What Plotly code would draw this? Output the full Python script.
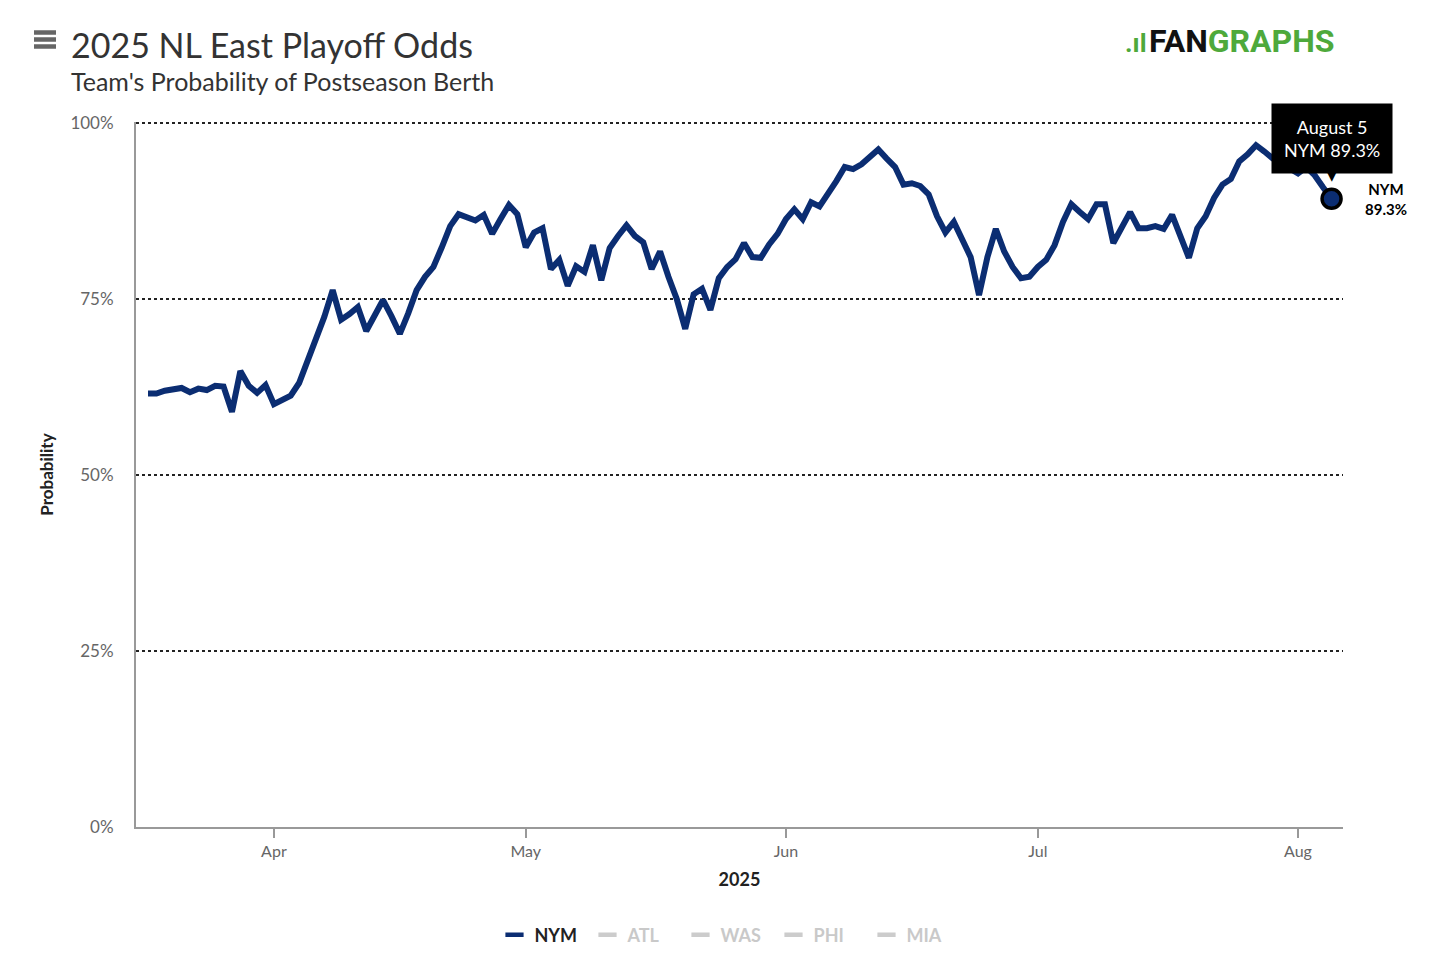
import plotly.graph_objects as go
import pandas as pd

start_date = "2025-03-17"
nym_pct = [
    61.6, 61.6, 62.0, 62.3, 62.4, 61.8, 62.3, 62.1, 62.7, 62.6,
    59.0, 64.8, 62.7, 61.7, 62.8, 60.1, 60.6, 61.3, 63.1, 66.2,
    69.4, 72.5, 76.3, 72.1, 72.9, 73.9, 70.5, 72.9, 74.9, 72.6,
    70.1, 73.0, 76.3, 78.2, 79.6, 82.4, 85.4, 87.1, 86.7, 86.2,
    87.0, 84.3, 86.4, 88.4, 87.1, 82.4, 84.5, 85.1, 79.3, 80.6,
    76.9, 79.7, 78.9, 82.7, 77.7, 82.3, 84.0, 85.5, 84.0, 83.1,
    79.3, 81.8, 78.2, 75.0, 70.8, 75.7, 76.5, 73.5, 78.0, 79.6,
    80.7, 83.0, 81.0, 80.9, 82.8, 84.3, 86.4, 87.8, 86.4, 88.8,
    88.2, 89.9, 91.8, 93.8, 93.5, 94.2, 95.3, 96.3, 95.0, 93.8,
    91.3, 91.5, 91.1, 89.9, 86.8, 84.5, 86.0, 83.3, 81.0, 75.6,
    81.0, 85.0, 81.8, 79.6, 78.0, 78.2, 79.6, 80.6, 82.7, 86.0,
    88.5, 87.4, 86.4, 88.5, 88.5, 83.0, 85.1, 87.4, 85.1, 85.1,
    85.4, 85.0, 87.0, 83.8, 80.9, 85.1, 86.8, 89.4, 91.3, 92.1,
    94.6, 95.6, 96.9, 96.0, 95.0, 94.3, 93.5, 92.9, 93.8, 92.6,
    90.9, 89.3,
]
dates = pd.date_range(start_date, periods=len(nym_pct), freq="D")
other_teams = ["ATL", "WAS", "PHI", "MIA"]
y_ticks = [0, 25, 50, 75, 100]
y_tick_labels = ["0%", "25%", "50%", "75%", "100%"]
title = "2025 NL East Playoff Odds"
subtitle = "Team's Probability of Postseason Berth"

NAVY = "#0b2d72"
GREEN = "#4ea93b"
FONT = "Lato"

W, H = 1456, 954
OFF = 8  # page body offset
L, R, T, B = 128, 121, 114, 135
pw, ph = W - L - R, H - T - B


def px(x):
    return (x - OFF - L) / pw


def py(y):
    return (H - B - (y - OFF)) / ph


fig = go.Figure()
fig.add_trace(go.Scatter(
    x=dates, y=nym_pct, mode="lines", name="NYM", showlegend=False,
    line=dict(color=NAVY, width=6), hoverinfo="skip",
))
fig.add_trace(go.Scatter(
    x=[dates[-1]], y=[nym_pct[-1]], mode="markers", showlegend=False,
    marker=dict(size=19, color=NAVY, line=dict(color="black", width=3.5)),
    hoverinfo="skip",
))
# legend entries (short line symbols)
fig.add_trace(go.Scatter(
    x=[None], y=[None], mode="markers", name="<b>NYM</b>",
    marker=dict(symbol="line-ew", size=13, line=dict(color=NAVY, width=4.5)),
))
for t in other_teams:
    fig.add_trace(go.Scatter(
        x=[None], y=[None], mode="markers",
        name=f"<span style='color:#c9c9c9'><b>{t}</b></span>",
        marker=dict(symbol="line-ew", size=13, line=dict(color="#cccccc", width=4.5)),
    ))

last_label = dates[-1].strftime("%B ") + str(dates[-1].day)
fig.add_annotation(
    x=dates[-1], y=nym_pct[-1], xref="x", yref="y",
    text=f"{last_label}<br>NYM {nym_pct[-1]:.1f}%",
    showarrow=False, xanchor="center", yanchor="bottom", yshift=25,
    bgcolor="black", borderpad=12, font=dict(family=FONT, size=18, color="white"),
)
fig.add_annotation(
    x=dates[-1], y=nym_pct[-1], xref="x", yref="y",
    text="▼", showarrow=False, xanchor="center", yanchor="bottom", yshift=13,
    font=dict(family="DejaVu Sans", size=15, color="black"),
)
fig.add_annotation(
    x=dates[-1], y=nym_pct[-1], xref="x", yref="y",
    text=f"<b>NYM</b><br><b>{nym_pct[-1]:.1f}%</b>",
    showarrow=False, xanchor="center", yanchor="middle", xshift=54, yshift=0,
    font=dict(family=FONT, size=15, color="black"),
)

fig.add_annotation(x=px(69), y=py(45), xref="paper", yref="paper", text=title,
                   showarrow=False, xanchor="left", yanchor="middle",
                   font=dict(family=FONT, size=34, color="#333333"))
fig.add_annotation(x=px(69), y=py(81), xref="paper", yref="paper", text=subtitle,
                   showarrow=False, xanchor="left", yanchor="middle",
                   font=dict(family=FONT, size=25, color="#333333"))
# logo
fig.add_annotation(x=px(1337), y=py(41), xref="paper", yref="paper",
                   text=f"<b><span style='color:#111'>FAN</span><span style='color:{GREEN}'>GRAPHS</span></b>",
                   showarrow=False, xanchor="right", yanchor="middle",
                   font=dict(family="Roboto", size=32))
fig.add_annotation(x=px(1149), y=py(43), xref="paper", yref="paper",
                   text=f"<b><span style='color:{GREEN}'>.ıl</span></b>",
                   showarrow=False, xanchor="right", yanchor="middle",
                   font=dict(family="Roboto", size=26))
# hamburger icon
for yy in (32.5, 39.5, 46.5):
    fig.add_shape(type="line", xref="paper", yref="paper",
                  x0=px(34), x1=px(56), y0=py(yy), y1=py(yy),
                  line=dict(color="#666666", width=4.5))

fig.update_layout(
    width=W, height=H,
    margin=dict(l=L, r=R, t=T, b=B, autoexpand=False),
    paper_bgcolor="white", plot_bgcolor="white",
    font=dict(family=FONT, color="#666666"),
    showlegend=True,
    legend=dict(orientation="h", x=px(727), xanchor="center", y=py(935),
                yanchor="middle", font=dict(family=FONT, size=18, color="#222"),
                entrywidth=48, entrywidthmode="pixels",
                itemclick=False, itemdoubleclick=False),
    hovermode=False,
)
fig.update_xaxes(
    type="date",
    range=["2025-03-15 13:40", "2025-08-06 08:40"],
    tick0="2025-04-01", dtick="M1", tickformat="%b",
    ticks="outside", ticklen=9, tickcolor="#999999", tickwidth=1.5,
    showline=True, linecolor="#999999", linewidth=2,
    showgrid=False, zeroline=False,
    tickfont=dict(family=FONT, size=16, color="#666666"),
    title=dict(text="<b>2025</b>", font=dict(family=FONT, size=18, color="#222"), standoff=14),
)
fig.update_yaxes(
    range=[0, 100.2], tickvals=y_ticks, ticktext=y_tick_labels,
    showgrid=True, gridcolor="#222222", griddash="dot", gridwidth=1.5,
    showline=True, linecolor="#999999", linewidth=2,
    zeroline=False, ticks="", ticklabelstandoff=17,
    tickfont=dict(family=FONT, size=17, color="#666666"),
    title=dict(text="<b>Probability</b>", font=dict(family=FONT, size=17, color="#222"), standoff=12),
)

fig.write_html("out.html")
